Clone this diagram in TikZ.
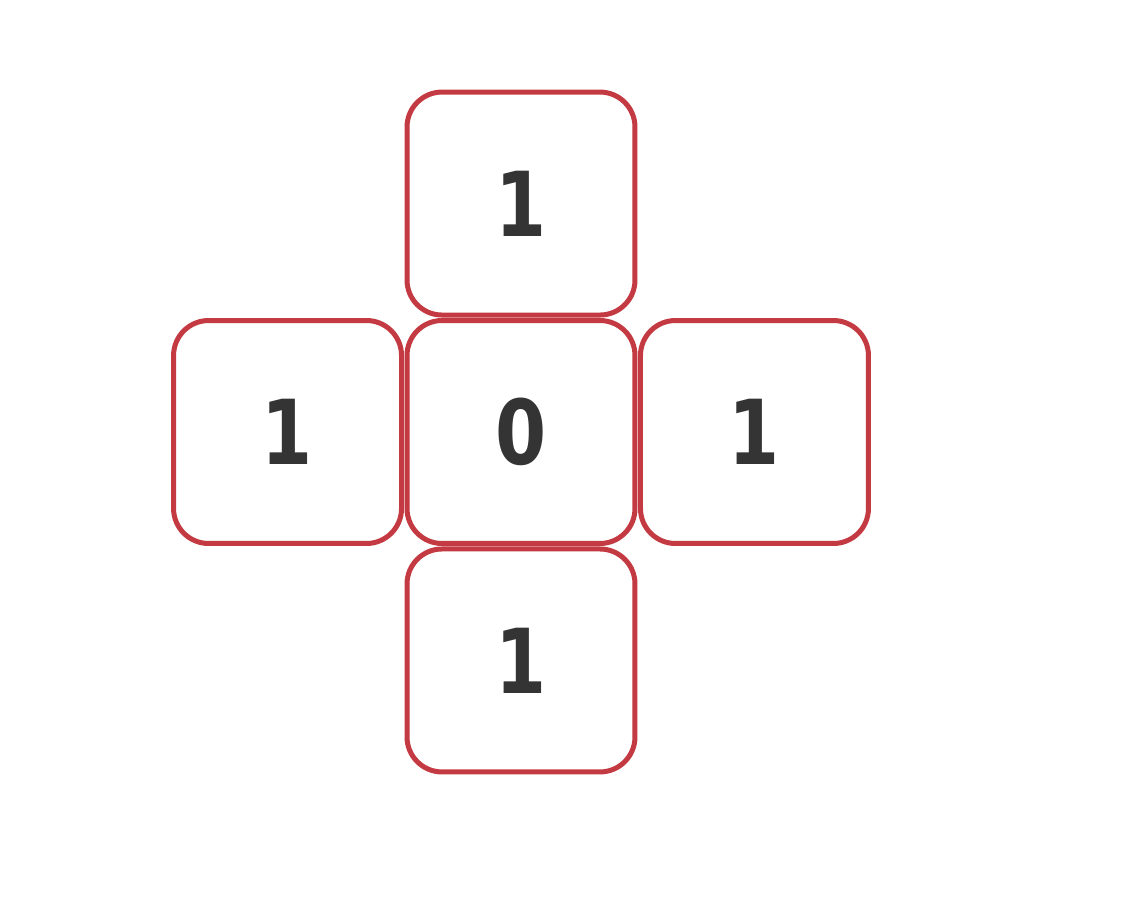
\documentclass[tikz,border=0pt]{standalone}
\usepackage{fontspec}
\setmainfont{DejaVu Sans}[FakeStretch=0.82]
\usetikzlibrary{positioning}
\definecolor{cellred}{RGB}{196,58,66}
\definecolor{digit}{RGB}{52,52,52}

\begin{document}
\begin{tikzpicture}[x=0.02cm,y=-0.02cm,
  cell/.style={draw=cellred,line width=0.1cm,rounded corners=0.7cm,fill=white,
    minimum width=4.56cm,minimum height=4.46cm,inner sep=0pt,
    text=digit,font=\bfseries\fontsize{51}{60}\selectfont},
  node distance=0.01cm]
\useasboundingbox (0,0) rectangle (1122,896);

\node[cell] (mid) at (521,432) {0};
\node[cell,above=of mid] (top) {1};
\node[cell,below=of mid] (bot) {1};
\node[cell,left=of mid] (lft) {1};
\node[cell,right=of mid] (rgt) {1};
\end{tikzpicture}
\end{document}
